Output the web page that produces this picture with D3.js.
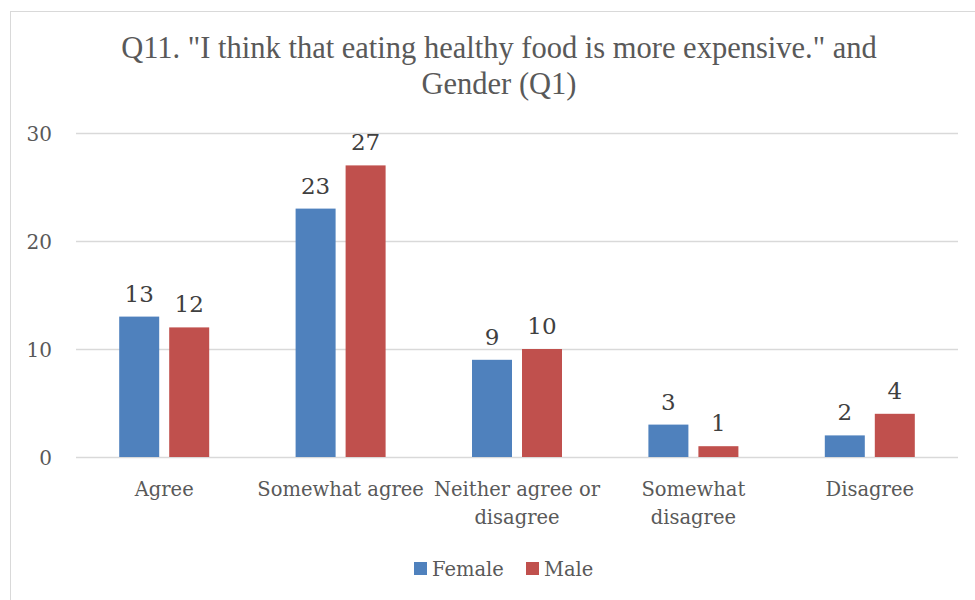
<!DOCTYPE html>
<html><head><meta charset="utf-8">
<script src="https://cdn.jsdelivr.net/npm/d3@7"></script>
<style>body{margin:0;background:#fff}svg{display:block}</style>
</head><body>
<svg id="c" width="975" height="600"></svg>
<script>
const categories = [["Agree"], ["Somewhat agree"], ["Neither agree or", "disagree"], ["Somewhat", "disagree"], ["Disagree"]];
const seriesNames = ["Female", "Male"];
const female = [13, 23, 9, 3, 2];
const male = [12, 27, 10, 1, 4];
const yTicks = [0, 10, 20, 30];
const colors = ["#4F81BD", "#C0504D"];
const titleLines = ['Q11. "I think that eating healthy food is more expensive." and', 'Gender (Q1)'];

const svg = d3.select("#c");
const font = "'DejaVu Serif', serif";
const titleFont = "'Liberation Serif', serif";
svg.append("rect").attr("x", 10.5).attr("y", 11.5).attr("width", 980).attr("height", 600)
  .attr("fill", "#fff").attr("stroke", "#d9d9d9").attr("stroke-width", 1);

const m = {left: 76, right: 958, top: 133, bottom: 457};
const x = d3.scaleBand().domain(d3.range(categories.length)).range([m.left, m.right]);
const y = d3.scaleLinear().domain([0, 30]).range([m.bottom, m.top]);
const barW = 40, gap = 10;

svg.append("g").selectAll("line").data(yTicks).join("line")
  .attr("x1", m.left).attr("x2", m.right)
  .attr("y1", d => Math.round(y(d)) + 0.5).attr("y2", d => Math.round(y(d)) + 0.5)
  .attr("stroke", "#d9d9d9").attr("stroke-width", 1.5);

svg.append("g").selectAll("text").data(yTicks).join("text")
  .attr("x", 52).attr("y", d => y(d) + 8).attr("text-anchor", "end")
  .attr("font-family", font).attr("font-size", 20).attr("fill", "#595959").text(d => d);

const series = [female, male];
series.forEach((vals, si) => {
  const g = svg.append("g");
  const xpos = i => x(i) + x.bandwidth() / 2 + (si === 0 ? -(gap / 2 + barW) : gap / 2);
  g.selectAll("rect").data(vals).join("rect")
    .attr("x", (d, i) => xpos(i)).attr("width", barW)
    .attr("y", d => y(d)).attr("height", d => y(0) - y(d))
    .attr("fill", colors[si]);
  g.selectAll("text").data(vals).join("text")
    .attr("x", (d, i) => xpos(i) + barW / 2).attr("y", d => y(d) - 15)
    .attr("text-anchor", "middle").attr("font-family", font).attr("font-size", 23)
    .attr("fill", "#404040").text(d => d);
});

const cl = svg.append("g").selectAll("text").data(categories).join("text")
  .attr("x", (d, i) => x(i) + x.bandwidth() / 2).attr("y", 496)
  .attr("text-anchor", "middle").attr("font-family", font).attr("font-size", 19.5).attr("fill", "#595959");
cl.selectAll("tspan").data(d => d).join("tspan")
  .attr("x", function() { return this.parentNode.getAttribute("x"); })
  .attr("dy", (d, i) => i === 0 ? 0 : 28).text(d => d);

svg.append("g").selectAll("text").data(titleLines).join("text")
  .attr("x", 499).attr("y", (d, i) => 58 + i * 36).attr("text-anchor", "middle")
  .attr("font-family", titleFont).attr("font-size", 30.5).attr("fill", "#595959").text(d => d);

const legX = [414, 526];
const lg = svg.append("g").selectAll("g").data(seriesNames).join("g");
lg.append("rect").attr("x", (d, i) => legX[i]).attr("y", 562).attr("width", 13).attr("height", 13)
  .attr("fill", (d, i) => colors[i]);
lg.append("text").attr("x", (d, i) => legX[i] + 18).attr("y", 576)
  .attr("font-family", font).attr("font-size", 19.5).attr("fill", "#595959").text(d => d);
</script>
</body></html>
